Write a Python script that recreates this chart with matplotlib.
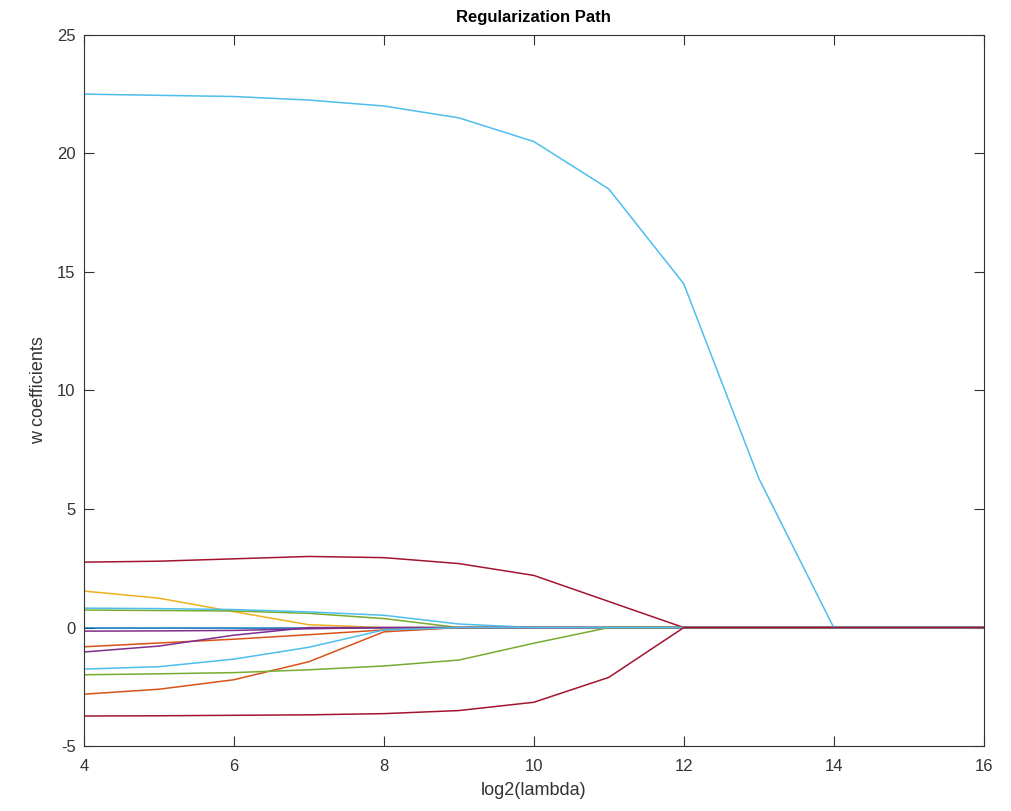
import matplotlib
matplotlib.use("Agg")
import matplotlib.pyplot as plt

x = [4, 5, 6, 7, 8, 9, 10, 11, 12, 13, 14, 15, 16]

c_blue = [0.0, 0.447, 0.741]
c_orange = [0.85, 0.325, 0.098]
c_yellow = [0.929, 0.694, 0.125]
c_purple = [0.494, 0.184, 0.556]
c_green = [0.466, 0.674, 0.188]
c_lblue = [0.301, 0.745, 0.933]
c_red = [0.635, 0.078, 0.184]

w_blue = [-0.02, -0.02, -0.02, -0.02, -0.01, 0, 0, 0, 0, 0, 0, 0, 0]
w_orange1 = [-0.81, -0.65, -0.49, -0.30, -0.10, 0, 0, 0, 0, 0, 0, 0, 0]
w_yellow = [1.54, 1.24, 0.67, 0.12, 0.0, 0, 0, 0, 0, 0, 0, 0, 0]
w_purple1 = [-0.15, -0.14, -0.12, -0.05, 0.0, 0, 0, 0, 0, 0, 0, 0, 0]
w_green1 = [0.74, 0.72, 0.70, 0.60, 0.38, 0.0, 0, 0, 0, 0, 0, 0, 0]
w_lblue1 = [0.82, 0.80, 0.76, 0.66, 0.52, 0.15, 0, 0, 0, 0, 0, 0, 0]
w_red1 = [2.76, 2.80, 2.90, 3.00, 2.95, 2.70, 2.20, 1.10, 0, 0, 0, 0, 0]
w_orange2 = [-2.81, -2.60, -2.20, -1.44, -0.18, 0, 0, 0, 0, 0, 0, 0, 0]
w_purple2 = [-1.03, -0.78, -0.32, 0.0, 0.0, 0, 0, 0, 0, 0, 0, 0, 0]
w_green2 = [-1.99, -1.95, -1.90, -1.78, -1.62, -1.37, -0.66, 0.0, 0, 0, 0, 0, 0]
w_lblue2 = [-1.75, -1.65, -1.33, -0.83, -0.10, 0, 0, 0, 0, 0, 0, 0, 0]
w_big = [22.5, 22.45, 22.4, 22.25, 22.0, 21.5, 20.5, 18.5, 14.5, 6.3, 0, 0, 0]
w_red2 = [-3.73, -3.72, -3.70, -3.68, -3.63, -3.50, -3.15, -2.10, 0, 0, 0, 0, 0]

series = [
    (w_blue, c_blue), (w_orange1, c_orange), (w_yellow, c_yellow),
    (w_purple1, c_purple), (w_green1, c_green), (w_lblue1, c_lblue),
    (w_red1, c_red), (w_orange2, c_orange), (w_purple2, c_purple),
    (w_green2, c_green), (w_lblue2, c_lblue), (w_big, c_lblue),
    (w_red2, c_red),
]

plt.rcParams['font.family'] = ['Liberation Sans', 'DejaVu Sans']
plt.rcParams['axes.unicode_minus'] = False
fig = plt.figure(figsize=(10.12, 8.11), dpi=100)
ax = fig.add_axes([0.083, 0.080, 0.889, 0.877])
for vals, col in series:
    ax.plot(x, vals, color=col, linewidth=1.1)

ax.set_xlim(4, 16)
ax.set_ylim(-5, 25)
ax.set_xticks([4, 6, 8, 10, 12, 14, 16])
ax.set_yticks([-5, 0, 5, 10, 15, 20, 25])
ax.tick_params(direction='in', top=True, right=True, length=7, width=0.8,
               colors='0.2', labelsize=12)
ax.tick_params(axis='x', pad=9)
ax.tick_params(axis='y', pad=6)
for s in ax.spines.values():
    s.set_color('0.2')
    s.set_linewidth(0.8)
ax.set_title('Regularization Path', fontsize=12, fontweight='bold', pad=9)
ax.set_xlabel('log2(lambda)', fontsize=13, color='0.2', labelpad=6)
ax.set_ylabel('w coefficients', fontsize=13, color='0.2', labelpad=7)
fig.savefig('out.png', dpi=100)
